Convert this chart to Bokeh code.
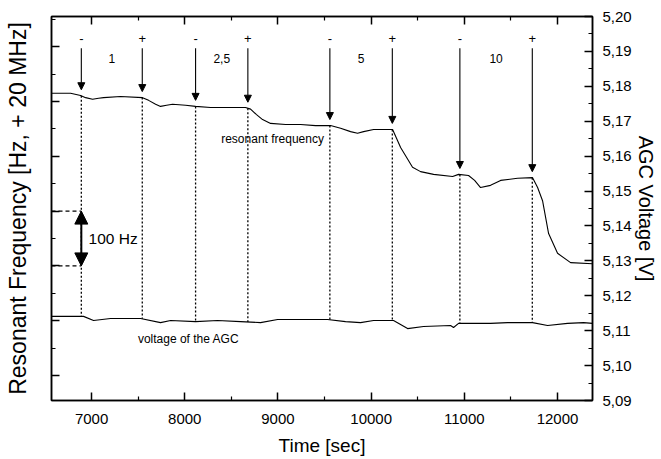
import numpy as np
from bokeh.plotting import figure
from bokeh.models import (Range1d, LinearAxis, FixedTicker, CustomJSTickFormatter,
                          Arrow, NormalHead, ColumnDataSource)
from bokeh.core.properties import value
from bokeh.embed import file_html
from bokeh.resources import INLINE

# ---- data ----
freq_time = [6570, 6775, 6882, 6936, 7011, 7075, 7129, 7311, 7547, 7612, 7687, 7740, 7805, 7869,
             8009, 8116, 8277, 8491, 8652, 8706, 8770, 8835, 8921, 9082, 9243, 9404, 9564, 9672,
             9779, 9854, 9919, 10026, 10230, 10316, 10444, 10530, 10670, 10874, 10938, 11045,
             11110, 11174, 11281, 11389, 11571, 11732, 11786, 11839, 11904, 12000, 12140, 12375]
freq_hz = [615, 615, 611, 607, 604, 606, 607, 609, 607, 602, 595, 591, 593, 595,
           593, 591, 589, 589, 589, 586, 576, 567, 560, 558, 558, 556, 556, 551,
           545, 542, 545, 549, 549, 516, 480, 472, 467, 463, 467, 465,
           456, 443, 447, 456, 460, 461, 443, 419, 359, 323, 306, 304]

agc_time = [6570, 6775, 6914, 7021, 7204, 7526, 7740, 7848, 8116, 8352, 8599, 8813, 8996, 9243,
            9532, 9725, 9886, 10026, 10240, 10391, 10562, 10852, 10884, 10938, 11281, 11464,
            11732, 11893, 12107, 12279, 12375]
agc_volt = [5.1141, 5.1141, 5.1141, 5.1129, 5.1135, 5.1135, 5.1123, 5.1129, 5.1126, 5.1129,
            5.1126, 5.1123, 5.1132, 5.1132, 5.1132, 5.1126, 5.1123, 5.1129, 5.1129, 5.1106,
            5.1112, 5.1115, 5.1109, 5.1121, 5.1121, 5.1123, 5.1123, 5.1115, 5.1121, 5.1123, 5.1121]

event_time = [6890, 7544, 8116, 8677, 9557, 10227, 10952, 11729]
event_sign = ["-", "+", "-", "+", "-", "+", "-", "+"]
dose_labels = ["1", "2,5", "5", "10"]

time_ticks = [7000, 8000, 9000, 10000, 11000, 12000]
time_minor = [7500, 8500, 9500, 10500, 11500]
volt_ticks = [5.09, 5.10, 5.11, 5.12, 5.13, 5.14, 5.15, 5.16, 5.17, 5.18, 5.19, 5.20]
volt_minor = [5.095, 5.105, 5.115, 5.125, 5.135, 5.145, 5.155, 5.165, 5.175, 5.185, 5.195]
hz_ticks = [100, 200, 300, 400, 500, 600, 700]
hz_minor = [150, 250, 350, 450, 550, 650, 750]
scale_bar_hz = [300, 400]

# ---- ranges ----
T0, T1 = 6570, 12375
HZ0, HZ1 = 54.5, 755
V0, V1 = 5.09, 5.20

FONT = "Liberation Sans"

p = figure(width=661, height=459, output_backend="svg", toolbar_location=None,
           x_range=Range1d(T0, T1), y_range=Range1d(HZ0, HZ1),
           min_border_left=51, min_border_right=69, min_border_top=16, min_border_bottom=59)
p.extra_y_ranges = {"volt": Range1d(V0, V1)}
p.xgrid.visible = False
p.ygrid.visible = False
p.outline_line_color = "black"
p.outline_line_width = 1.5
p.background_fill_color = "white"
p.border_fill_color = "white"

empty = CustomJSTickFormatter(code="return '';")

def style(ax, fs="15px"):
    ax.axis_line_width = 1.5
    ax.axis_line_color = "black"
    ax.major_tick_in = 8
    ax.major_tick_out = 0
    ax.minor_tick_in = 4
    ax.minor_tick_out = 0
    ax.major_tick_line_width = 1.5
    ax.minor_tick_line_width = 1.2
    ax.major_tick_line_color = "black"
    ax.minor_tick_line_color = "black"
    ax.major_label_text_font = FONT
    ax.major_label_text_font_size = fs
    ax.major_label_text_color = "black"
    ax.axis_label_text_font = FONT
    ax.axis_label_text_font_style = "normal"
    ax.axis_label_text_color = "black"

# bottom
xb = p.xaxis[0]
xb.ticker = FixedTicker(ticks=time_ticks, minor_ticks=time_minor)
xb.axis_label = "Time [sec]"
style(xb)
xb.axis_label_text_font_size = "19px"
xb.major_label_standoff = 13
xb.axis_label_standoff = 8

# left (Hz, unlabeled)
yl = p.yaxis[0]
yl.ticker = FixedTicker(ticks=hz_ticks, minor_ticks=hz_minor)
yl.formatter = empty
yl.axis_label = "Resonant Frequency [Hz, + 20 MHz]"
style(yl)
yl.axis_label_text_font_size = "23px"
yl.major_label_standoff = 0
yl.axis_label_standoff = 21

# top
xt = LinearAxis(ticker=FixedTicker(ticks=time_ticks, minor_ticks=time_minor), formatter=empty)
style(xt)
xt.major_label_standoff = 0
p.add_layout(xt, "above")

# right (Volts)
yr = LinearAxis(y_range_name="volt", ticker=FixedTicker(ticks=volt_ticks, minor_ticks=volt_minor),
                formatter=CustomJSTickFormatter(code="return tick.toFixed(2).replace('.', ',');"),
                axis_label="AGC Voltage [V]")
style(yr)
yr.axis_label_text_font_size = "20px"
yr.major_label_standoff = 10
yr.axis_label_standoff = 0
p.add_layout(yr, "right")

# ---- curves ----
p.line(freq_time, freq_hz, line_color="black", line_width=1.1)
p.line(agc_time, agc_volt, y_range_name="volt", line_color="black", line_width=1.1)

# ---- event markers ----
ev = np.array(event_time, dtype=float)
ev_top = np.interp(ev, freq_time, freq_hz)
ev_bot_v = np.interp(ev, agc_time, agc_volt)
ev_bot = HZ0 + (ev_bot_v - V0) / (V1 - V0) * (HZ1 - HZ0)

p.segment(x0=ev, y0=ev_top, x1=ev, y1=ev_bot, line_color="black", line_width=1.3, line_dash="2 2")

arr_src = ColumnDataSource(dict(x0=ev, y0=np.full(len(ev), 697.0), x1=ev, y1=ev_top + 11))
p.add_layout(Arrow(source=arr_src, x_start="x0", y_start="y0", x_end="x1", y_end="y1",
                   line_color="black", line_width=1.1,
                   end=NormalHead(size=7, fill_color="black", line_color="black", line_width=1)))

p.text(x=ev, y=np.full(len(ev), 715.0), text=event_sign, text_font=value(FONT),
       text_font_size=value("13px"), text_align="center", text_baseline="middle", text_color="black")

mid = (ev[0::2] + ev[1::2]) / 2
p.text(x=mid, y=np.full(len(mid), 678.0), text=dose_labels, text_font=value(FONT),
       text_font_size=value("12px"), text_align="center", text_baseline="middle", text_color="black")

# curve labels
p.text(x=[8942], y=[532], text=["resonant frequency"], text_font=value(FONT),
       text_font_size=value("12px"), text_align="center", text_baseline="middle", text_color="black")
p.text(x=[8041], y=[166], text=["voltage of the AGC"], text_font=value(FONT),
       text_font_size=value("12px"), text_align="center", text_baseline="middle", text_color="black")

# 100 Hz scale bar
p.segment(x0=[T0, T0], y0=scale_bar_hz, x1=[ev[0], ev[0]], y1=scale_bar_hz,
          line_color="black", line_width=1.2, line_dash="4 3")
p.add_layout(Arrow(x_start=ev[0], y_start=scale_bar_hz[0], x_end=ev[0], y_end=scale_bar_hz[1],
                   line_color="black", line_width=2,
                   start=NormalHead(size=13, fill_color="black", line_color="black"),
                   end=NormalHead(size=13, fill_color="black", line_color="black")))
p.text(x=[6968], y=[sum(scale_bar_hz) / 2], text=["100 Hz"], text_font=value(FONT),
       text_font_size=value("15.5px"), text_align="left", text_baseline="middle", text_color="black")

open("out.html", "w").write(file_html(p, INLINE))
